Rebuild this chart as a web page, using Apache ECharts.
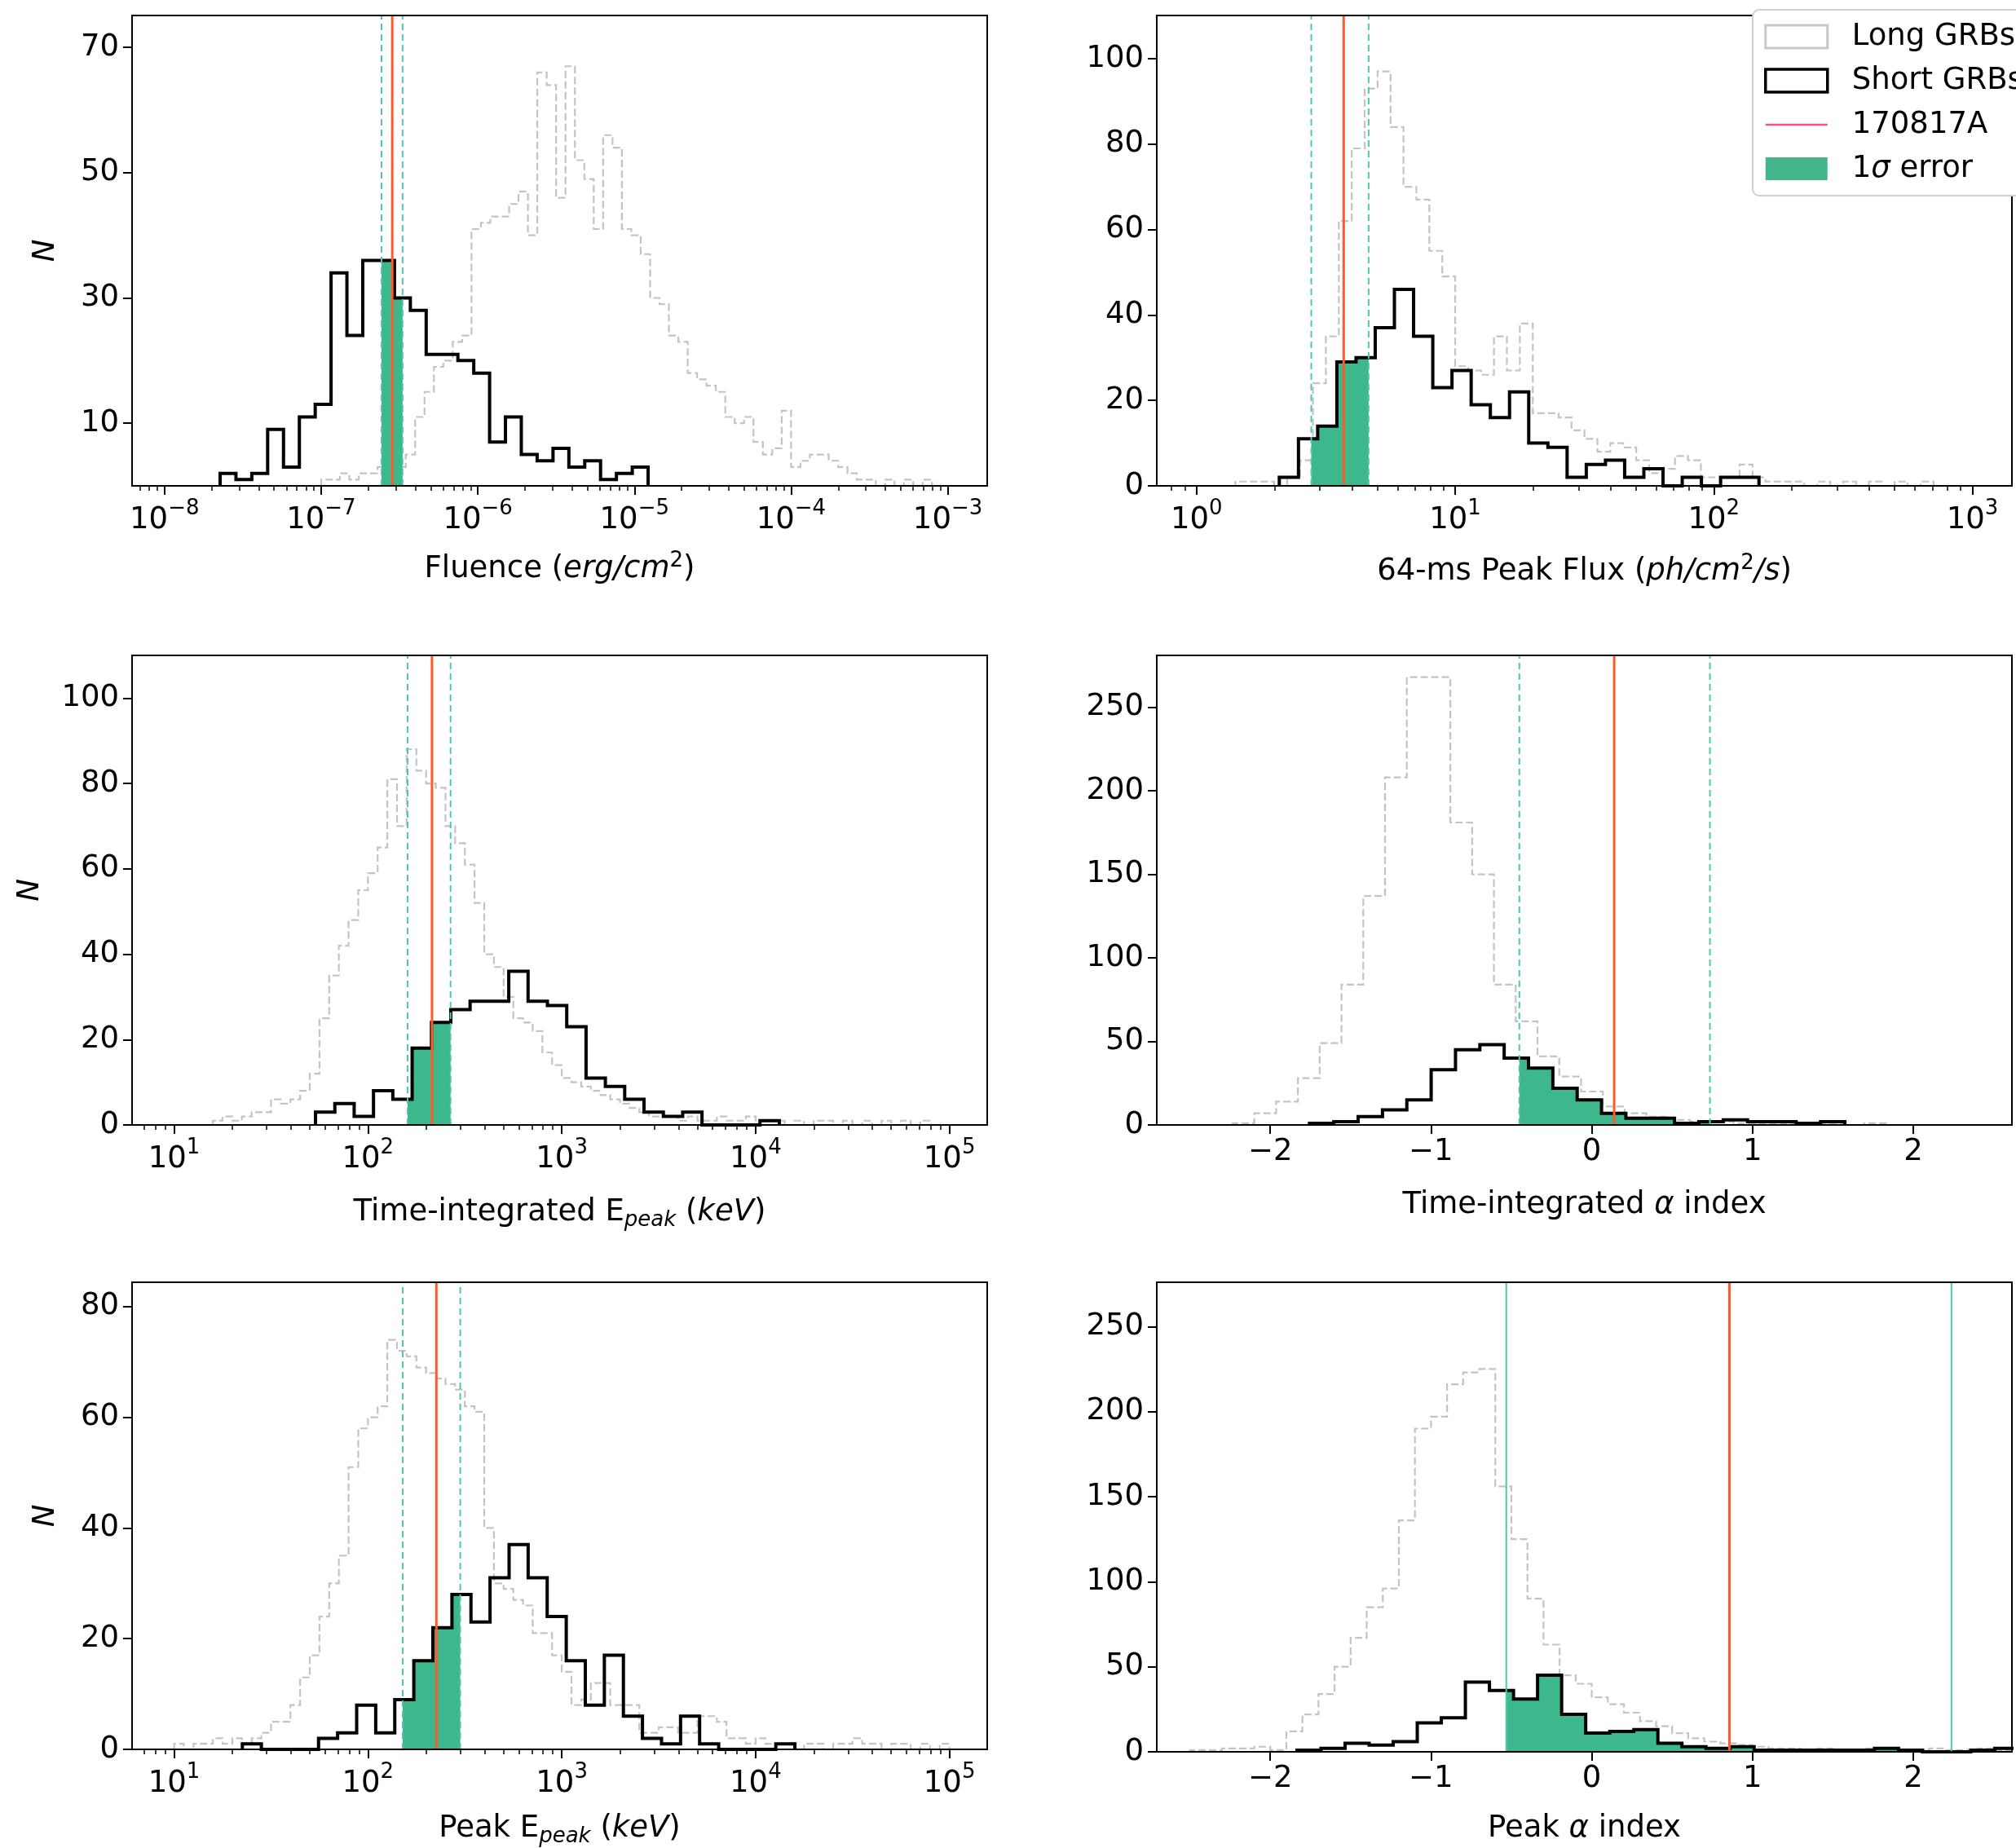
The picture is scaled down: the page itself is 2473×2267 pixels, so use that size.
<!DOCTYPE html>
<html><head><meta charset="utf-8">
<script src="https://cdn.jsdelivr.net/npm/echarts@6/dist/echarts.min.js"></script>
<style>html,body{margin:0;padding:0;background:#fff}#c{width:2473px;height:2267px}</style>
</head><body><div id="c"></div>
<script>
// ================= DATA =================
// Log-scale panels: bin starts / widths / event values are log10 of the quantity.
// Panel 1: Fluence (erg/cm^2)
const fluenceShortStart = -7.645, fluenceShortWidth = 0.1012;
const fluenceShortCounts = [2,1,2,9,3,11,13,34,24,36,36,30,28,21,21,20,18,7,11,5,4,6,3,4,1,2,3];
const fluenceLongStart = -7.0, fluenceLongWidth = 0.06;
const fluenceLongCounts = [1,1,2,1,2,2,3,1,3,5,11,15,19,20,23,24,41,42,43,43,45,47,40,66,64,46,67,52,49,41,56,54,41,40,37,30,29,24,23,18,17,16,15,11,10,11,7,5,6,12,3,4,5,5,4,3,2,1,1,0,1,0,1,0,1];
const fluenceEvent = [-6.6145, -6.546, -6.48];          // [lo, value, hi]
const fluenceXTicks = [-8, -7, -6, -5, -4, -3];
const fluenceYTicks = [10, 30, 50, 70];

// Panel 2: 64-ms peak flux (ph/cm^2/s)
const fluxShortStart = 0.3198, fluxShortWidth = 0.0742;
const fluxShortCounts = [2,11,14,29,30,37,46,35,23,27,19,16,22,10,9,2,5,6,2,4,0,2,0,2,2];
const fluxLongStart = 0.10, fluxLongWidth = 0.05;
const fluxLongCounts = [0,1,1,1,0,2,6,24,35,62,79,93,97,84,70,67,55,49,28,27,26,35,27,38,17,17,16,13,11,8,10,9,6,3,4,7,6,2,2,2,5,2,1,1,1,0,1,0,1,0,1,0,1,0,1];
const fluxEvent = [0.4435, 0.5689, 0.6653];
const fluxXTicks = [0, 1, 2, 3];
const fluxYTicks = [0, 20, 40, 60, 80, 100];

// Panel 3: time-integrated Epeak (keV)
const epeakShortStart = 1.7295, epeakShortWidth = 0.0997;
const epeakShortCounts = [3,5,2,8,6,18,24,27,29,29,36,29,28,23,11,9,6,3,2,3,0,0,0,1];
const epeakLongStart = 1.20, epeakLongWidth = 0.05;
const epeakLongCounts = [1,2,1,2,3,3,6,5,6,8,12,25,35,42,48,55,59,65,81,70,88,83,80,79,70,66,61,52,40,37,30,25,24,22,17,14,11,10,9,8,7,6,5,4,3,2,2,2,1,2,1,1,2,1,1,2,1,1,1,0,1,0,1,1,0,1,0,1,0,1,0,1,0,1];
const epeakEvent = [2.2047, 2.3304, 2.4263];
const epeakXTicks = [1, 2, 3, 4, 5];
const epeakYTicks = [0, 20, 40, 60, 80, 100];

// Panel 4: time-integrated alpha index (linear)
const alphaShortStart = -1.756, alphaShortWidth = 0.1514;
const alphaShortCounts = [1,2,5,9,15,33,45,48,40,34,22,15,7,4,4,1,2,3,2,2,1,2];
const alphaLongStart = -2.2345, alphaLongWidth = 0.1355;
const alphaLongCounts = [1,7,14,28,49,84,137,208,268,268,181,150,84,62,41,29,20,11,7,5,3,2,2,1,1,1,0,1,0,1];
const alphaEvent = [-0.4504, 0.1398, 0.7352];
const alphaXTicks = [-2, -1, 0, 1, 2];
const alphaYTicks = [0, 50, 100, 150, 200, 250];

// Panel 5: peak Epeak (keV)
const pEpeakShortStart = 1.352, pEpeakShortWidth = 0.0983;
const pEpeakShortCounts = [1,0,0,0,2,3,8,3,9,16,22,28,23,31,37,31,24,16,8,17,6,2,1,6,1,0,0,0,1];
const pEpeakLongStart = 1.00, pEpeakLongWidth = 0.05;
const pEpeakLongCounts = [1,0,1,1,2,1,2,1,2,3,5,5,8,13,17,24,30,35,51,58,60,62,74,72,71,69,68,67,66,65,62,61,40,30,29,27,26,21,21,17,14,8,9,12,12,8,8,8,3,3,4,4,3,3,6,6,5,2,2,1,2,1,1,1,0,1,1,0,1,1,2,1,1,0,1,1,0,1,0,1];
const pEpeakEvent = [2.1793, 2.3531, 2.4762];
const pEpeakXTicks = [1, 2, 3, 4, 5];
const pEpeakYTicks = [0, 20, 40, 60, 80];

// Panel 6: peak alpha index (linear)
const pAlphaShortStart = -1.834, pAlphaShortWidth = 0.1497;
const pAlphaShortCounts = [1,2,5,4,6,17,20,41,36,31,45,22,11,12,13,5,3,2,3,1,1,1,1,1,2,1,0,0,1,2];
const pAlphaLongStart = -2.7, pAlphaLongWidth = 0.1;
const pAlphaLongCounts = [0,0,1,1,2,2,3,1,12,22,34,50,67,85,96,136,190,197,216,223,225,156,125,90,63,45,40,32,28,23,18,15,11,8,6,5,4,3,2,2,1,2,1,1,2,1,1,1,2,1,1,2,1];
const pAlphaEvent = [-0.5317, 0.8564, 2.2377];
const pAlphaXTicks = [-2, -1, 0, 1, 2];
const pAlphaYTicks = [0, 50, 100, 150, 200, 250];

const seriesNames = ['Long GRBs', 'Short GRBs', '170817A', '1σ error'];

// ================= LAYOUT / STYLE =================
const FONT = 'DejaVu Sans';
const FS = 37;
const C_LONG = '#c4c4c4', C_SHORT = '#000000', C_RED = '#ff5a2c', C_TEAL = '#4fc7b3', C_FILL = '#3cb88c';

const panels = [
  {grid:{left:162, top:19, width:1049, height:577}, log:true, xr:[-8.207,-2.748], ymax:75.1,
   xt:fluenceXTicks, yt:fluenceYTicks, sh:[fluenceShortStart,fluenceShortWidth,fluenceShortCounts],
   lg:[fluenceLongStart,fluenceLongWidth,fluenceLongCounts], ev:fluenceEvent,
   name:'{n|Fluence (}{i|erg/cm}{sup|2}{n|)}', nameGap:79, yName:'N', yNameGap:87, dashed:true},
  {grid:{left:1419, top:19, width:1049, height:577}, log:true, xr:[-0.154,3.153], ymax:110.1,
   xt:fluxXTicks, yt:fluxYTicks, sh:[fluxShortStart,fluxShortWidth,fluxShortCounts],
   lg:[fluxLongStart,fluxLongWidth,fluxLongCounts], ev:fluxEvent,
   name:'{n|64-ms Peak Flux (}{i|ph/cm}{sup|2}{i|/s}{n|)}', nameGap:82, yName:'', dashed:true},
  {grid:{left:162, top:804, width:1049, height:576}, log:true, xr:[0.783,5.195], ymax:110,
   xt:epeakXTicks, yt:epeakYTicks, sh:[epeakShortStart,epeakShortWidth,epeakShortCounts],
   lg:[epeakLongStart,epeakLongWidth,epeakLongCounts], ev:epeakEvent,
   name:'{n|Time-integrated E}{sub|peak}{n| (}{i|keV}{n|)}', nameGap:84, yName:'N', yNameGap:106, dashed:true},
  {grid:{left:1419, top:804, width:1049, height:576}, log:false, xr:[-2.706,2.614], ymax:281,
   xt:alphaXTicks, yt:alphaYTicks, sh:[alphaShortStart,alphaShortWidth,alphaShortCounts],
   lg:[alphaLongStart,alphaLongWidth,alphaLongCounts], ev:alphaEvent,
   name:'{n|Time-integrated }{i|α}{n| index}', nameGap:75, yName:'', dashed:true},
  {grid:{left:162, top:1573, width:1049, height:576}, log:true, xr:[0.783,5.195], ymax:84.4,
   xt:pEpeakXTicks, yt:pEpeakYTicks, sh:[pEpeakShortStart,pEpeakShortWidth,pEpeakShortCounts],
   lg:[pEpeakLongStart,pEpeakLongWidth,pEpeakLongCounts], ev:pEpeakEvent,
   name:'{n|Peak E}{sub|peak}{n| (}{i|keV}{n|)}', nameGap:74, yName:'N', yNameGap:87, dashed:true},
  {grid:{left:1419, top:1573, width:1049, height:576}, log:false, xr:[-2.706,2.614], ymax:276,
   xt:pAlphaXTicks, yt:pAlphaYTicks, sh:[pAlphaShortStart,pAlphaShortWidth,pAlphaShortCounts],
   lg:[pAlphaLongStart,pAlphaLongWidth,pAlphaLongCounts], ev:pAlphaEvent,
   name:'{n|Peak }{i|α}{n| index}', nameGap:71, yName:'', dashed:false}
];

// ================= HELPERS =================
function stepPoints(start, width, counts) {
  const pts = [[start, 0]];
  for (let i = 0; i < counts.length; i++) {
    const a = start + i * width, b = start + (i + 1) * width;
    pts.push([a, counts[i]], [b, counts[i]]);
  }
  pts.push([start + counts.length * width, 0]);
  return pts;
}
function clippedFill(start, width, counts, lo, hi) {
  const n = counts.length;
  const h = x => { const k = Math.floor((x - start) / width); return (k >= 0 && k < n) ? counts[k] : 0; };
  const pts = [[lo, 0], [lo, h(lo)]];
  for (let i = 0; i <= n; i++) {
    const e = start + i * width;
    if (e > lo && e < hi) pts.push([e, i > 0 ? counts[i - 1] : 0], [e, i < n ? counts[i] : 0]);
  }
  pts.push([hi, h(hi)], [hi, 0]);
  return pts;
}
function logMinors(a, b) {
  const out = [];
  for (let n = Math.floor(a); n <= Math.ceil(b); n++)
    for (let k = 2; k <= 9; k++) { const v = n + Math.log10(k); if (v > a && v < b) out.push(v); }
  return out;
}
const minus = v => (v < 0 ? '\u2212' + Math.abs(v) : String(v));

const tickRich = {
  b: {fontFamily: FONT, fontSize: FS, color: '#000', lineHeight: 46, verticalAlign: 'bottom'},
  s: {fontFamily: FONT, fontSize: 26, color: '#000', lineHeight: 26, verticalAlign: 'top'}
};
const nameRich = {
  n: {fontFamily: FONT, fontSize: FS, color: '#000', lineHeight: 46},
  i: {fontFamily: FONT, fontSize: FS, color: '#000', lineHeight: 46, fontStyle: 'italic'},
  sup: {fontFamily: FONT, fontSize: 26, color: '#000', lineHeight: 26, verticalAlign: 'top'},
  sub: {fontFamily: FONT, fontSize: 26, color: '#000', lineHeight: 26, verticalAlign: 'bottom', fontStyle: 'italic'}
};

// ================= BUILD OPTION =================
const grid = [], xAxis = [], yAxis = [], series = [];
panels.forEach((p, i) => {
  grid.push(Object.assign({show: true, borderColor: '#000', borderWidth: 2, backgroundColor: 'rgba(0,0,0,0)', z: 8}, p.grid));
  const xi = xAxis.length;
  xAxis.push({
    gridIndex: i, type: 'value', min: p.xr[0], max: p.xr[1], position: 'bottom',
    axisLine: {show: false, onZero: false}, splitLine: {show: false},
    axisTick: {show: true, length: 11, lineStyle: {color: '#000', width: 2}, customValues: p.xt},
    axisLabel: {
      customValues: p.xt, margin: 15, color: '#000', fontFamily: FONT, fontSize: FS,
      formatter: p.log ? (v => '{b|10}{s|' + minus(Math.round(v)) + '}') : (v => minus(Math.round(v))),
      rich: tickRich
    },
    name: p.name, nameLocation: 'middle', nameGap: p.nameGap,
    nameTextStyle: {rich: nameRich, fontFamily: FONT, fontSize: FS, color: '#000', verticalAlign: 'top'}
  });
  if (p.log) {
    xAxis.push({
      gridIndex: i, type: 'value', min: p.xr[0], max: p.xr[1], position: 'bottom',
      axisLine: {show: false, onZero: false}, splitLine: {show: false}, axisLabel: {show: false},
      axisTick: {show: true, length: 6, lineStyle: {color: '#000', width: 1.5}, customValues: logMinors(p.xr[0], p.xr[1])}
    });
  }
  yAxis.push({
    gridIndex: i, type: 'value', min: 0, max: p.ymax, position: 'left',
    axisLine: {show: false, onZero: false}, splitLine: {show: false},
    axisTick: {show: true, length: 11, lineStyle: {color: '#000', width: 2}, customValues: p.yt},
    axisLabel: {customValues: p.yt, margin: 16, color: '#000', fontFamily: FONT, fontSize: FS},
    name: p.yName, nameLocation: 'middle', nameRotate: 90, nameGap: p.yNameGap || 60,
    nameTextStyle: {fontFamily: FONT, fontSize: FS, fontStyle: 'italic', color: '#000'}
  });
  const common = {xAxisIndex: xi, yAxisIndex: i, symbol: 'none', silent: true, animation: false};
  const [lo, ev, hi] = p.ev;
  series.push(Object.assign({}, common, {
    type: 'line', name: seriesNames[0], z: 2, data: stepPoints(p.lg[0], p.lg[1], p.lg[2]),
    lineStyle: {color: C_LONG, width: 2.2, type: [9, 4], join: 'miter'}, itemStyle: {color: C_LONG}
  }));
  series.push(Object.assign({}, common, {
    type: 'line', name: seriesNames[3], z: 3, data: clippedFill(p.sh[0], p.sh[1], p.sh[2], lo, hi),
    lineStyle: {width: 0, color: C_FILL}, itemStyle: {color: C_FILL}, areaStyle: {color: C_FILL, opacity: 1}
  }));
  series.push(Object.assign({}, common, {
    type: 'line', name: seriesNames[1], z: 4, data: stepPoints(p.sh[0], p.sh[1], p.sh[2]),
    lineStyle: {color: C_SHORT, width: 4, join: 'miter'}, itemStyle: {color: C_SHORT}
  }));
  [lo, hi].forEach(v => series.push(Object.assign({}, common, {
    type: 'line', name: seriesNames[3], z: 5, data: [[v, 0], [v, p.ymax]],
    lineStyle: {color: C_TEAL, width: 2, type: p.dashed ? [8, 5] : 'solid'}, itemStyle: {color: C_FILL}
  })));
  series.push(Object.assign({}, common, {
    type: 'line', name: seriesNames[2], z: 6, data: [[ev, 0], [ev, p.ymax]],
    lineStyle: {color: C_RED, width: 3}, itemStyle: {color: C_RED}
  }));
});

const option = {
  backgroundColor: '#fff',
  animation: false,
  grid, xAxis, yAxis, series,
  legend: {
    show: true, orient: 'vertical', left: 2150, top: 12, z: 20,
    itemWidth: 76, itemHeight: 28, itemGap: 16, selectedMode: false,
    padding: [14, 90, 14, 14],
    backgroundColor: '#fff', borderColor: '#d0d0d0', borderWidth: 2, borderRadius: 8,
    textStyle: {fontFamily: FONT, fontSize: FS, color: '#000', lineHeight: 38, padding: [0, 0, 0, 25],
      rich: {n: {fontFamily: FONT, fontSize: FS, color: '#000'}, i: {fontFamily: FONT, fontSize: FS, color: '#000', fontStyle: 'italic'}}},
    formatter: name => name === '1σ error' ? '{n|1}{i|σ}{n| error}' : '{n|' + name + '}',
    data: [
      {name: 'Long GRBs', icon: 'rect', itemStyle: {color: 'rgba(0,0,0,0)', borderColor: '#c8c8c8', borderWidth: 3}},
      {name: 'Short GRBs', icon: 'rect', itemStyle: {color: 'rgba(0,0,0,0)', borderColor: '#000', borderWidth: 3.5}},
      {name: '170817A', icon: 'path://M0,0L1,0L1,0.01L0,0.01Z M0,12.5L100,12.5L100,15.5L0,15.5Z M0,27.99L1,27.99L1,28L0,28Z',
       itemStyle: {color: '#f0587a', borderWidth: 0}},
      {name: '1σ error', icon: 'rect', itemStyle: {color: '#45b58c', borderWidth: 0}}
    ]
  }
};
const chart = echarts.init(document.getElementById('c'), null, {renderer: 'canvas', width: 2473, height: 2267});
chart.setOption(option);
</script></body></html>
